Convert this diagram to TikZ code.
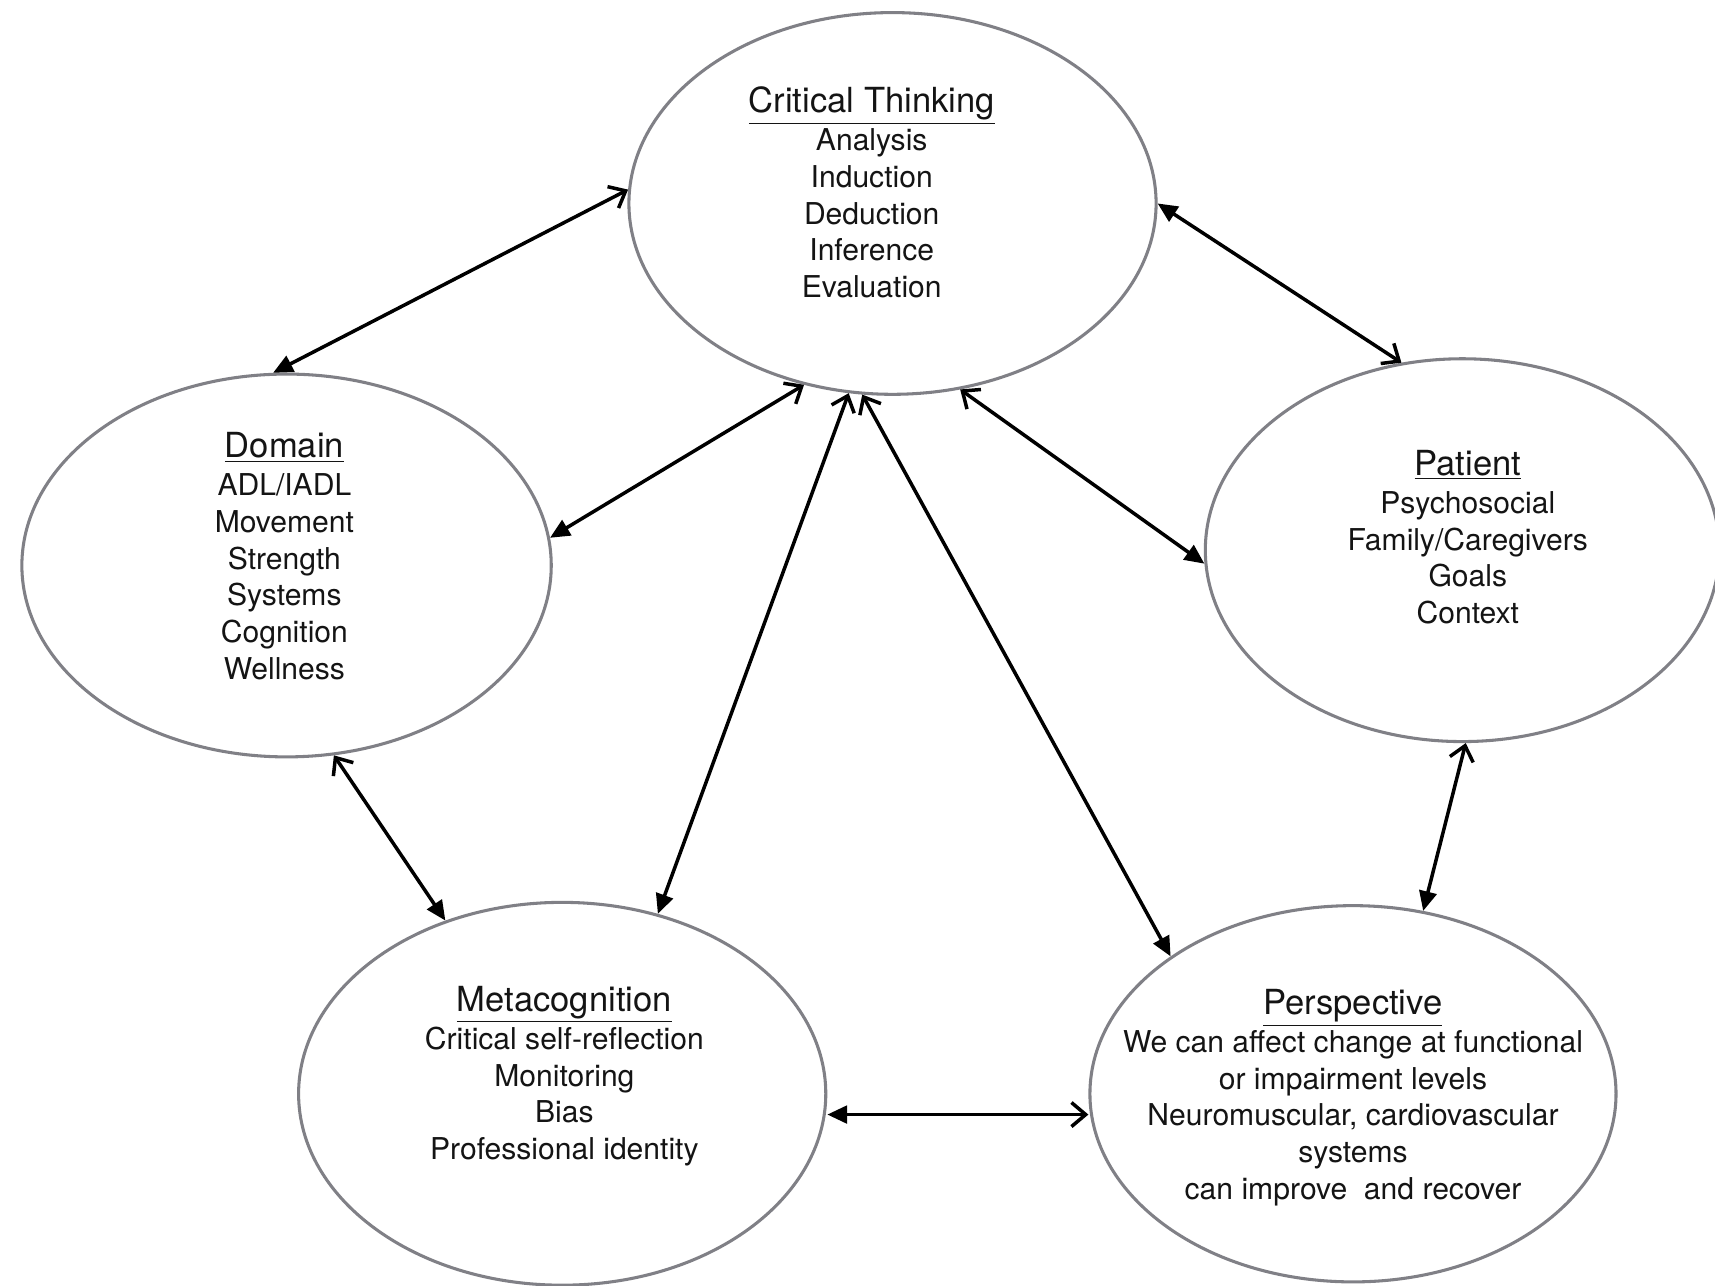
\documentclass[tikz,border=0pt]{standalone}
\usepackage{fontspec}
\setmainfont{TeX Gyre Heros}
\usetikzlibrary{shapes.geometric,arrows.meta}
\definecolor{ellgray}{RGB}{128,128,134}
\definecolor{inkc}{RGB}{20,20,20}
\newcommand{\hdr}[1]{{\fontsize{15.8}{18}\selectfont\underline{#1}}\\[0.75pt]}
\begin{document}
\begin{tikzpicture}[x=0.5pt,y=-0.5pt,
  bubble/.style={ellipse, draw=ellgray, line width=1.4pt, inner sep=0pt, fill=white},
  txt/.style={anchor=north, align=center, inner sep=0pt, text=inkc, font=\fontsize{13.75}{16.75}\selectfont},
  link/.style={line width=1.6pt, draw=black, {Triangle[length=9pt,width=8pt]}-{Straight Barb[length=6.5pt,width=11pt]}}
]
\useasboundingbox[fill=white] (0,0) rectangle (1568,1175);

\node[bubble, minimum width=241pt, minimum height=174.5pt] (ct)   at (816,186)  {};
\node[bubble, minimum width=242pt, minimum height=175pt] (dom)  at (262,517)  {};
\node[bubble, minimum width=235pt, minimum height=175pt] (pat)  at (1337,503) {};
\node[bubble, minimum width=241pt, minimum height=175pt] (meta) at (514,1000) {};
\node[bubble, minimum width=240.5pt, minimum height=172pt] (per)  at (1237,1000) {};

\node[txt] (ctt) at (797,79) {\hdr{Critical Thinking}Analysis\\Induction\\Deduction\\Inference\\Evaluation};
\node[txt] (domt) at (260,395) {\hdr{Domain}ADL/IADL\\Movement\\Strength\\Systems\\Cognition\\Wellness};
\node[txt] (patt) at (1342,411) {\hdr{Patient}Psychosocial\\Family/Caregivers\\Goals\\Context};
\node[txt] (metat) at (516,901) {\hdr{Metacognition}Critical self-reflection\\Monitoring\\Bias\\Professional identity};
\node[txt] (pert) at (1237,904) {\hdr{Perspective}We can affect change at functional\\or impairment levels\\Neuromuscular, cardiovascular\\systems\\can improve~ and recover};

\coordinate (mh) at (800,1019);

\draw[link] (dom.94.5) -- (ct.177.6);
\draw[link] (dom.6.4) -- (ct.244);
\draw[link] (meta.62.5) -- (ct.257.8);
\draw[link] (per.143) -- (ct.261);
\draw[link] (ct.0.7) -- (pat.108);
\draw[link] (pat.183) -- (ct.290);
\draw[link] (meta.124.4) -- (dom.284);
\draw[link] (per.69.4) -- (pat.271);
\draw[link] (meta.east |- mh) -- (per.west |- mh);
\end{tikzpicture}
\end{document}
